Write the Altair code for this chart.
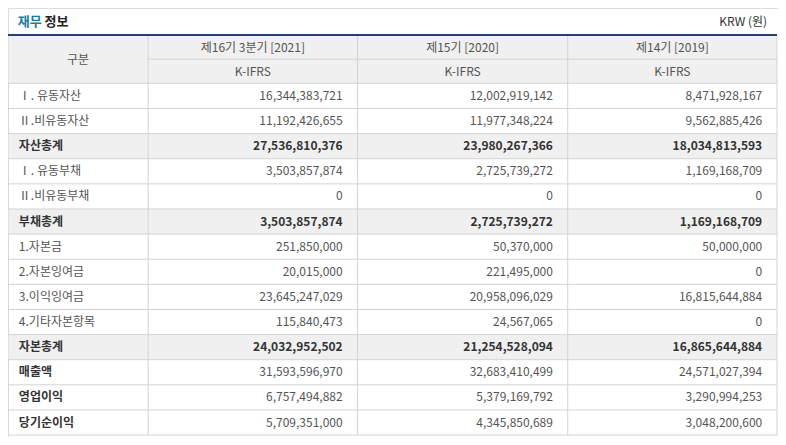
import altair as alt
import pandas as pd

# ---- data ----
row_labels = ["Ⅰ. 유동자산", "Ⅱ.비유동자산", "자산총계", "Ⅰ. 유동부채", "Ⅱ.비유동부채", "부채총계",
              "1.자본금", "2.자본잉여금", "3.이익잉여금", "4.기타자본항목", "자본총계",
              "매출액", "영업이익", "당기순이익"]
label_bold = [0, 0, 1, 0, 0, 1, 0, 0, 0, 0, 1, 1, 1, 1]
row_total = [0, 0, 1, 0, 0, 1, 0, 0, 0, 0, 1, 0, 0, 0]
periods = ["제16기 3분기 [2021]", "제15기 [2020]", "제14기 [2019]"]
standards = ["K-IFRS", "K-IFRS", "K-IFRS"]
val_2021q3 = [16344383721, 11192426655, 27536810376, 3503857874, 0, 3503857874,
              251850000, 20015000, 23645247029, 115840473, 24032952502,
              31593596970, 6757494882, 5709351000]
val_2020 = [12002919142, 11977348224, 23980267366, 2725739272, 0, 2725739272,
            50370000, 221495000, 20958096029, 24567065, 21254528094,
            32683410499, 5379169792, 4345850689]
val_2019 = [8471928167, 9562885426, 18034813593, 1169168709, 0, 1169168709,
            50000000, 0, 16815644884, 0, 16865644884,
            24571027394, 3290994253, 3048200600]
title_a, title_b = "재무", "정보"
unit_label = "KRW (원)"
header_first = "구분"

# ---- layout (table geometry in reference pixel units) ----
col_edges = [1, 143, 355, 568, 780]
h_top, h_mid, h_bot = 29, 53, 78
row_h = 26
n = len(row_labels)
bottom = h_bot + n * row_h

FONT = "Noto Sans CJK KR"
GRID = "#d4d4d4"
BG = "#f0f0f0"

xs = alt.Scale(domain=[1, 781], nice=False, zero=False)
ys = alt.Scale(domain=[0, 444], nice=False, zero=False, reverse=True)


def X(f):
    return alt.X(f, type="quantitative", scale=xs, axis=None)


def Y(f):
    return alt.Y(f, type="quantitative", scale=ys, axis=None)


# backgrounds
bg_rows = [dict(x=col_edges[0], x2=col_edges[-1], y=h_top, y2=h_bot)]
for i in range(n):
    if row_total[i]:
        top = h_bot + i * row_h
        bg_rows.append(dict(x=col_edges[0], x2=col_edges[-1], y=top, y2=top + row_h))
bg = alt.Chart(pd.DataFrame(bg_rows)).mark_rect(color=BG).encode(
    x=X("x"), x2="x2", y=Y("y"), y2="y2")

# horizontal grid lines
hl = [dict(x=col_edges[1], x2=col_edges[-1], y=h_mid)]
for i in range(n + 1):
    hl.append(dict(x=col_edges[0], x2=col_edges[-1], y=h_bot + i * row_h))
hlines = alt.Chart(pd.DataFrame(hl)).mark_rule(color=GRID, strokeWidth=1).encode(
    x=X("x"), x2="x2", y=Y("y"))

# vertical grid lines
vl = [dict(x=e, y=h_top, y2=bottom) for e in col_edges]
vlines = alt.Chart(pd.DataFrame(vl)).mark_rule(color=GRID, strokeWidth=1).encode(
    x=X("x"), y=Y("y"), y2="y2")

# top navy line
topline = alt.Chart(pd.DataFrame([dict(x=col_edges[0], x2=col_edges[-1], y=28)])).mark_rule(
    color="#233f7c", strokeWidth=2).encode(x=X("x"), x2="x2", y=Y("y"))

# header texts
hdr = [dict(x=(col_edges[0] + col_edges[1]) / 2, y=(h_top + h_bot) / 2, t=header_first)]
for j in range(3):
    cx = (col_edges[j + 1] + col_edges[j + 2]) / 2
    hdr.append(dict(x=cx, y=(h_top + h_mid) / 2 + 0.5, t=periods[j]))
    hdr.append(dict(x=cx, y=(h_mid + h_bot) / 2 + 0.5, t=standards[j]))
hdr_text = alt.Chart(pd.DataFrame(hdr)).mark_text(
    font=FONT, fontSize=12, color="#555555", align="center", baseline="middle").encode(
    x=X("x"), y=Y("y"), text="t:N")

# row labels
lab = [dict(x=12, y=h_bot + i * row_h + row_h / 2, t=row_labels[i], b=label_bold[i])
       for i in range(n)]
lab_df = pd.DataFrame(lab)
lab_norm = alt.Chart(lab_df[lab_df.b == 0]).mark_text(
    font=FONT, fontSize=12, color="#555555", align="left", baseline="middle").encode(
    x=X("x"), y=Y("y"), text="t:N")
lab_bold = alt.Chart(lab_df[lab_df.b == 1]).mark_text(
    font=FONT, fontSize=12, fontWeight="bold", color="#333333", align="left",
    baseline="middle").encode(x=X("x"), y=Y("y"), text="t:N")

# values
cols = [val_2021q3, val_2020, val_2019]
vals = []
for j, col in enumerate(cols):
    for i, v in enumerate(col):
        vals.append(dict(x=col_edges[j + 2] - 15, y=h_bot + i * row_h + row_h / 2,
                         t=f"{v:,}", b=row_total[i]))
val_df = pd.DataFrame(vals)
val_norm = alt.Chart(val_df[val_df.b == 0]).mark_text(
    font=FONT, fontSize=12, color="#555555", align="right", baseline="middle").encode(
    x=X("x"), y=Y("y"), text="t:N")
val_bold = alt.Chart(val_df[val_df.b == 1]).mark_text(
    font=FONT, fontSize=12, fontWeight="bold", color="#333333", align="right",
    baseline="middle").encode(x=X("x"), y=Y("y"), text="t:N")

# titles
ttl = alt.Chart(pd.DataFrame([dict(x=11, y=14, t=title_a)])).mark_text(
    font=FONT, fontSize=13, fontWeight="bold", color="#1b7d9c", align="left",
    baseline="middle").encode(x=X("x"), y=Y("y"), text="t:N")
ttl2 = alt.Chart(pd.DataFrame([dict(x=38, y=14, t=title_b)])).mark_text(
    font=FONT, fontSize=13, fontWeight="bold", color="#222222", align="left",
    baseline="middle").encode(x=X("x"), y=Y("y"), text="t:N")
unit = alt.Chart(pd.DataFrame([dict(x=770, y=15, t=unit_label)])).mark_text(
    font=FONT, fontSize=12, color="#333333", align="right", baseline="middle").encode(
    x=X("x"), y=Y("y"), text="t:N")

chart = alt.layer(bg, hlines, vlines, topline, hdr_text, lab_norm, lab_bold,
                  val_norm, val_bold, ttl, ttl2, unit).properties(
    width=770, height=429, padding=0,
    autosize=alt.AutoSizeParams(type="none"),
).configure_view(stroke=None).configure(background="white")

chart.save("out.html", embed_options={"renderer": "svg", "actions": False})
